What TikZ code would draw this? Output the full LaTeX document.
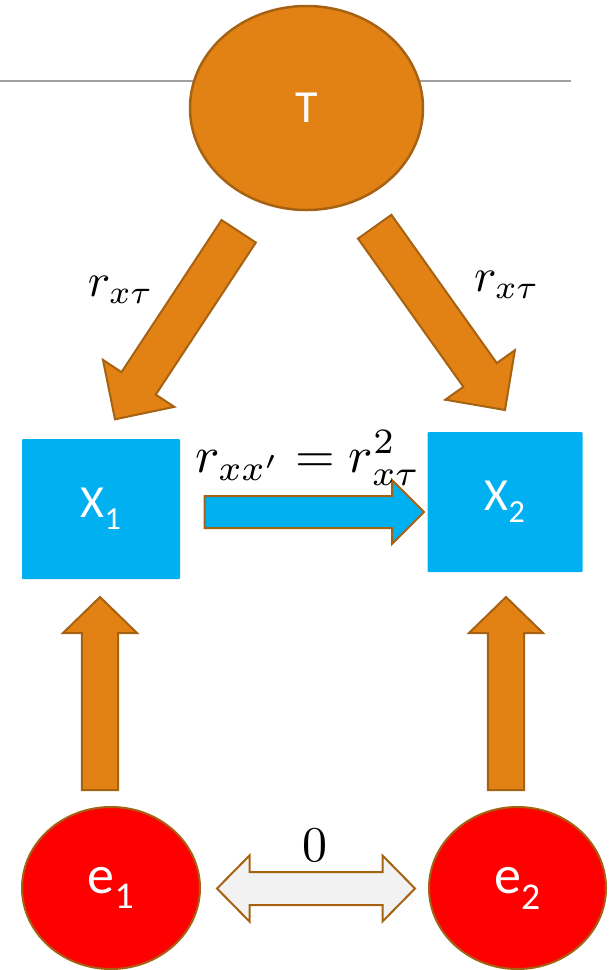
\documentclass[tikz,border=0pt]{standalone}
\usepackage{fontspec}
\setsansfont{Carlito}
\usetikzlibrary{shapes.geometric,calc}

\definecolor{tOrange}{RGB}{227,130,20}
\definecolor{tBrown}{RGB}{165,98,18}
\definecolor{tCyan}{RGB}{0,176,240}
\definecolor{tRed}{RGB}{255,0,0}
\definecolor{tLight}{RGB}{242,242,242}
\definecolor{tRule}{RGB}{160,160,160}

% big math label: scale, formula
\newcommand{\bigmath}[2]{\scalebox{#1}{$#2$}}
% block arrow: style, tail, tip, shaft half width, head half width, head length
\newcommand{\blockarrow}[6]{%
  \coordinate (bahead) at ($(#3)!#6!(#2)$);
  \draw[#1] ($(#2)!#4!90:(#3)$) -- ($(bahead)!#4!90:(#3)$)
    -- ($(bahead)!#5!90:(#3)$) -- (#3) -- ($(bahead)!#5!-90:(#3)$)
    -- ($(bahead)!#4!-90:(#3)$) -- ($(#2)!#4!-90:(#3)$) -- cycle;
}
% double block arrow: style, tip a, tip b, shaft half width, head half width, head length
\newcommand{\dblockarrow}[6]{%
  \coordinate (dbha) at ($(#2)!#6!(#3)$);
  \coordinate (dbhb) at ($(#3)!#6!(#2)$);
  \draw[#1] (#2) -- ($(dbha)!#5!90:(#3)$) -- ($(dbha)!#4!90:(#3)$)
    -- ($(dbhb)!#4!-90:(#2)$) -- ($(dbhb)!#5!-90:(#2)$) -- (#3)
    -- ($(dbhb)!#5!90:(#2)$) -- ($(dbhb)!#4!90:(#2)$)
    -- ($(dbha)!#4!-90:(#3)$) -- ($(dbha)!#5!-90:(#3)$) -- cycle;
}

\begin{document}
\begin{tikzpicture}[
    x=1pt, y=-1pt,
    font=\sffamily\fontsize{46}{50}\selectfont,
    latent/.style={ellipse, draw=tBrown, line width=2.5pt, fill=tOrange,
      text=white, inner sep=0pt},
    err/.style={ellipse, draw=tBrown, line width=2pt, fill=tRed,
      text=white, inner sep=0pt, font=\sffamily\fontsize{54}{58}\selectfont},
    obs/.style={rectangle, rounded corners=1pt, fill=tCyan, text=white,
      inner sep=0pt},
    lbl/.style={inner sep=0pt, font=\normalsize},
    oar/.style={draw=tBrown, line width=2pt, fill=tOrange},
    car/.style={draw=tBrown, line width=2pt, fill=tCyan},
    gar/.style={draw=tBrown, line width=2pt, fill=tLight},
  ]
    \useasboundingbox (0,0) rectangle (610,970);
    % Rule behind the top circle
    \coordinate (ruleL) at (0,81);
    \coordinate (ruleR) at (571,81);
    \draw[tRule, line width=1.2pt] (ruleL) -- (ruleR);
    % Nodes
    \node[latent, minimum width=233, minimum height=204] (T)  at (306.5,108) {T};
    \node[obs, minimum width=158, minimum height=140]    (X1) at (101,509)   {X\textsubscript{1}};
    \node[obs, minimum width=155, minimum height=140]    (X2) at (505,502)   {X\textsubscript{2}};
    \node[err, minimum width=178, minimum height=162]    (e1) at (111,888)   {e\textsubscript{1}};
    \node[err, minimum width=177, minimum height=162]    (e2) at (517.5,888) {e\textsubscript{2}};
    % Arrow ends
    \coordinate (tl)  at (238.7,231.3);  \coordinate (hl)  at (115,419.3);
    \coordinate (tr)  at (374.7,226.7);  \coordinate (hr)  at (505,410);
    \coordinate (ul)  at (100,790);      \coordinate (uhl) at (100,597);
    \coordinate (ur)  at (506,790);      \coordinate (uhr) at (506,597);
    \coordinate (xt)  at (204.7,512);    \coordinate (xh)  at (424,512);
    \coordinate (da)  at (217,888.5);    \coordinate (db)  at (415,888.5);
    % Block arrows
    \blockarrow{oar}{tl}{hl}{20.5pt}{42.7pt}{43pt}
    \blockarrow{oar}{tr}{hr}{20.5pt}{42.7pt}{43pt}
    \blockarrow{oar}{ul}{uhl}{18.2pt}{37pt}{36pt}
    \blockarrow{oar}{ur}{uhr}{18.2pt}{37pt}{36pt}
    \blockarrow{car}{xt}{xh}{16pt}{32pt}{32pt}
    \dblockarrow{gar}{da}{db}{16.5pt}{33pt}{32.5pt}
    % Labels
    \node[lbl] (lrl) at (121,290) {\bigmath{4.7}{r_{x\tau}}};
    \node[lbl] (lrr) at (507,285) {\bigmath{4.7}{r_{x\tau}}};
    \node[lbl] (lxx) at (308,458) {\bigmath{5.1}{r_{xx'} = r_{x\tau}^2}};
    \node[lbl] (lz)  at (315,845) {\bigmath{5}{0}};
\end{tikzpicture}
\end{document}
